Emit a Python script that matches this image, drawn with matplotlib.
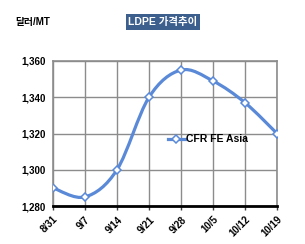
import matplotlib
matplotlib.use('agg')
import matplotlib.pyplot as plt
from matplotlib.path import Path
from matplotlib.patches import PathPatch
import numpy as np

dates = ['8/31', '9/7', '9/14', '9/21', '9/28', '10/5', '10/12', '10/19']
prices = [1290, 1285, 1300, 1340, 1355, 1349, 1337, 1320]
series_name = 'CFR FE Asia'
title = 'LDPE 가격추이'
unit = '달러/MT'
yticks = [1280, 1300, 1320, 1340, 1360]

blue = '#5A89D8'
fonts = ['Liberation Sans', 'Noto Sans CJK KR', 'DejaVu Sans']
plt.rcParams['font.family'] = fonts

fig = plt.figure(figsize=[3.05, 2.44], dpi=100)
ax = fig.add_axes([53/305, 1-206/244, 224/305, 145/244])

x = np.arange(len(dates))
y = np.array(prices, dtype=float)

# smoothed line like excel (catmull-rom -> bezier)
verts = [(x[0], y[0])]
codes = [Path.MOVETO]
n = len(x)
for i in range(n-1):
    p0 = np.array([x[max(i-1, 0)], y[max(i-1, 0)]])
    p1 = np.array([x[i], y[i]])
    p2 = np.array([x[i+1], y[i+1]])
    p3 = np.array([x[min(i+2, n-1)], y[min(i+2, n-1)]])
    c1 = p1 + (p2-p0)/6
    c2 = p2 - (p3-p1)/6
    verts += [tuple(c1), tuple(c2), tuple(p2)]
    codes += [Path.CURVE4]*3
ax.add_patch(PathPatch(Path(verts, codes), fill=False, edgecolor=blue, lw=2.3, zorder=3))
ax.plot(x, y, ls='none', marker='D', ms=4.5, mfc='white', mec=blue, mew=1.1, zorder=4)
ax.plot([], [], color=blue, lw=2.3, marker='D', ms=4.5, mfc='white', mec=blue, mew=1.1, label=series_name)

ax.set_xlim(0, n-1)
ax.set_ylim(1280, 1360)
ax.set_yticks(yticks)
ax.set_yticklabels([f'{v:,}' for v in yticks], fontsize=7, fontweight='bold')
ax.set_xticks(x)
ax.set_xticklabels(dates, rotation=45, ha='right', rotation_mode='anchor', fontsize=7, fontweight='bold')
ax.tick_params(axis='y', length=0, pad=5)
ax.tick_params(axis='x', length=3, width=1, color='#404040', pad=3)
ax.grid(True, color='#8c8c8c', lw=1)
ax.set_axisbelow(True)
for s in ['top', 'right', 'left']:
    ax.spines[s].set_color('#8c8c8c')
    ax.spines[s].set_linewidth(1.2)
ax.spines['bottom'].set_color('black')
ax.spines['bottom'].set_linewidth(2)

leg = ax.legend(loc='center left', bbox_to_anchor=(0.49, 0.46), frameon=False,
                fontsize=7.5, handlelength=1.6, handletextpad=0.1, borderpad=0)
for t in leg.get_texts():
    t.set_fontweight('bold')

fig.text(163/305, 1-22/244, title, ha='center', va='center', fontsize=7.5, fontweight='bold',
         color='white', bbox=dict(boxstyle='square,pad=0.25', fc='#3D5F8E', ec='none'))
fig.text(15/305, 1-22/244, unit, ha='left', va='center', fontsize=7, fontweight='bold')

fig.savefig('out.png', dpi=100)
